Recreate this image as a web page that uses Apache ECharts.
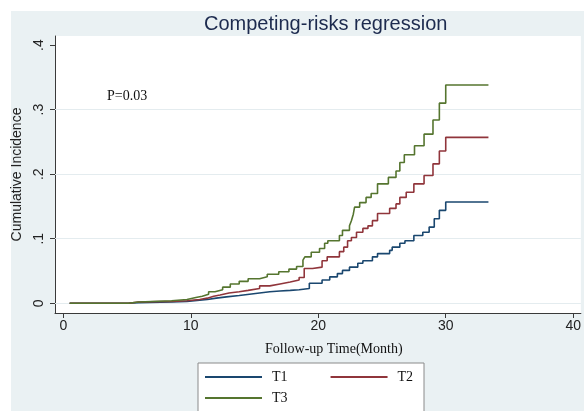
<!DOCTYPE html>
<html>
<head>
<meta charset="utf-8">
<script src="https://cdn.jsdelivr.net/npm/echarts@6/dist/echarts.min.js"></script>
<style>
html,body{margin:0;padding:0;background:#ffffff;}
#chart{width:584px;height:411px;}
</style>
</head>
<body>
<div id="chart"></div>
<script>
// Tick labels
var xTicks = [0, 10, 20, 30, 40];
var yTicks = [0, 0.1, 0.2, 0.3, 0.4];
var gridValues = [0, 0.1, 0.2, 0.3];
var seriesNames = ['T1', 'T2', 'T3'];

// Step data: [month, cumulative incidence after jump]
var T1 = [[0.5,0],[5.1,0.001],[5.9,0.002],[8.5,0.003],[9.7,0.005],[10.7,0.006],[11.3,0.008],[12.0,0.010],[12.8,0.012],[13.8,0.014],[14.6,0.016],[15.4,0.018],[16.2,0.019],[17.0,0.020],[17.8,0.021],[18.5,0.023],[19.3,0.031],[20.3,0.036],[20.9,0.041],[21.5,0.046],[21.9,0.051],[22.45,0.056],[23.1,0.062],[23.5,0.066],[24.25,0.072],[24.65,0.077],[25.6,0.082],[25.8,0.087],[26.4,0.093],[26.8,0.097],[27.5,0.105],[28.2,0.110],[28.7,0.118],[29.1,0.131],[29.5,0.144],[30.0,0.157],[33.35,0.157]];
var T2 = [[0.5,0],[5.1,0.002],[5.9,0.003],[8.5,0.004],[9.7,0.006],[10.7,0.008],[11.3,0.011],[11.8,0.013],[12.3,0.016],[13.0,0.018],[13.8,0.020],[14.5,0.023],[15.4,0.027],[16.2,0.030],[17.0,0.033],[17.8,0.036],[18.5,0.040],[18.9,0.054],[19.55,0.056],[20.3,0.066],[20.7,0.072],[21.66,0.080],[22.0,0.087],[22.3,0.097],[22.6,0.102],[23.0,0.110],[23.5,0.116],[23.9,0.120],[24.25,0.128],[24.65,0.139],[25.6,0.147],[26.1,0.154],[26.4,0.164],[26.9,0.172],[27.5,0.185],[28.3,0.198],[29.0,0.216],[29.5,0.236],[30.0,0.257],[33.35,0.257]];
var T3 = [[0.5,0],[5.1,0.002],[5.9,0.004],[8.5,0.006],[9.7,0.009],[10.4,0.011],[10.9,0.014],[11.4,0.018],[11.9,0.021],[12.5,0.025],[13.1,0.030],[13.8,0.034],[14.5,0.038],[15.4,0.041],[16.0,0.045],[16.9,0.049],[17.7,0.053],[18.3,0.057],[18.8,0.067],[18.95,0.072],[19.45,0.079],[20.1,0.085],[20.5,0.093],[20.75,0.097],[21.66,0.105],[21.9,0.113],[22.45,0.120],[22.6,0.128],[22.75,0.138],[22.85,0.149],[23.25,0.156],[23.75,0.164],[24.15,0.170],[24.65,0.185],[25.5,0.195],[26.1,0.205],[26.4,0.218],[26.75,0.230],[27.55,0.244],[28.3,0.262],[29.0,0.284],[29.5,0.310],[30.0,0.338],[33.35,0.338]];

var colors = ['#1a476f', '#90353b', '#55752f'];
var sansFont = '"Liberation Sans", Arial, sans-serif';
var serifFont = '"Liberation Serif", "Times New Roman", serif';

var chart = echarts.init(document.getElementById('chart'), null, {renderer: 'canvas'});

function mkSeries(name, data, color, withGrid) {
  var s = {
    name: name,
    type: 'line',
    step: 'end',
    data: data,
    showSymbol: false,
    symbol: 'none',
    lineStyle: {color: color, width: 1.6},
    itemStyle: {color: color},
    animation: false,
    z: 3
  };
  if (withGrid) {
    s.markLine = {
      silent: true,
      symbol: ['none', 'none'],
      label: {show: false},
      lineStyle: {color: '#e4ecef', width: 1, type: 'solid'},
      z: 1,
      data: gridValues.map(function (v) { return {yAxis: v}; })
    };
  }
  return s;
}

var option = {
  backgroundColor: '#ffffff',
  animation: false,
  color: colors,
  graphic: [
    {type: 'rect', z: -10, silent: true, shape: {x: 11, y: 11, width: 573, height: 400}, style: {fill: '#eaf1f3'}},
    {type: 'rect', z: 10, silent: true, shape: {x: 198, y: 363, width: 226, height: 60}, style: {fill: '#ffffff', stroke: '#8a8a8a', lineWidth: 1}},
    {type: 'text', z: 20, left: 107, top: 89, style: {text: 'P=0.03', font: '14px ' + serifFont, fill: '#111111'}},
    {type: 'text', z: 20, left: 265, top: 342, style: {text: 'Follow-up Time(Month)', font: '14px ' + serifFont, fill: '#111111'}}
  ],
  title: {
    text: 'Competing-risks regression',
    left: 204,
    top: 14,
    padding: 0,
    textStyle: {fontFamily: sansFont, fontSize: 20, fontWeight: 'normal', color: '#1c2a4e'}
  },
  grid: {left: 55, right: 2, top: 36, bottom: 98, show: true, backgroundColor: '#ffffff', borderWidth: 0, containLabel: false},
  xAxis: {
    type: 'value',
    min: -0.65,
    max: 40.6,
    axisLine: {show: true, onZero: false, lineStyle: {color: '#3a3a3a', width: 1}},
    axisTick: {show: true, inside: false, length: 5, customValues: xTicks, lineStyle: {color: '#3a3a3a'}},
    axisLabel: {customValues: xTicks, fontFamily: sansFont, fontSize: 14, color: '#222222', margin: 6,
      formatter: function (v) { return String(v); }},
    splitLine: {show: false}
  },
  yAxis: {
    type: 'value',
    min: -0.015,
    max: 0.414,
    name: 'Cumulative Incidence',
    nameLocation: 'middle',
    nameRotate: 90,
    nameGap: 28,
    nameTextStyle: {fontFamily: sansFont, fontSize: 14, color: '#222222'},
    axisLine: {show: true, onZero: false, lineStyle: {color: '#3a3a3a', width: 1}},
    axisTick: {show: true, inside: false, length: 5, customValues: yTicks, lineStyle: {color: '#3a3a3a'}},
    axisLabel: {customValues: yTicks, rotate: 90, fontFamily: sansFont, fontSize: 14, color: '#222222', margin: 9,
      formatter: function (v) { if (Math.abs(v) < 1e-9) return '0'; return '.' + Math.round(v * 10); }},
    splitLine: {show: false}
  },
  legend: [
    {
      data: ['T1', 'T2'], left: 205, top: 370, orient: 'horizontal', icon: 'rect',
      itemWidth: 57, itemHeight: 2, itemGap: 43, padding: 0, z: 20,
      textStyle: {fontFamily: serifFont, fontSize: 14, color: '#111111', padding: [0, 0, 0, 5]}
    },
    {
      data: ['T3'], left: 205, top: 391, orient: 'horizontal', icon: 'rect',
      itemWidth: 57, itemHeight: 2, padding: 0, z: 20,
      textStyle: {fontFamily: serifFont, fontSize: 14, color: '#111111', padding: [0, 0, 0, 5]}
    }
  ],
  series: [
    mkSeries(seriesNames[0], T1, colors[0], true),
    mkSeries(seriesNames[1], T2, colors[1], false),
    mkSeries(seriesNames[2], T3, colors[2], false)
  ]
};
chart.setOption(option);
</script>
</body>
</html>
